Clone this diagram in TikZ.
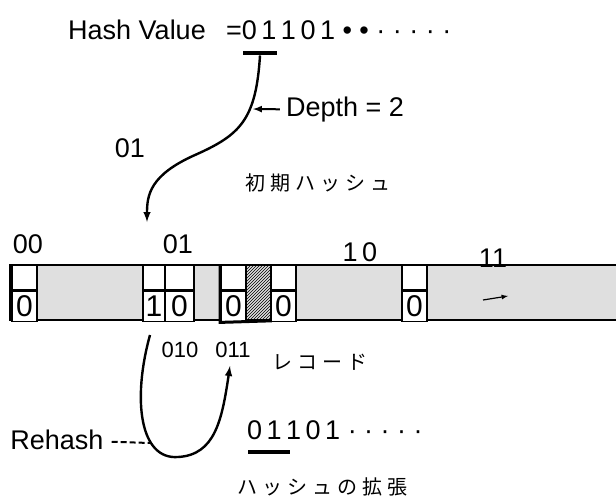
\documentclass[tikz,border=0pt]{standalone}
\usepackage{fontspec}
\setmainfont{Liberation Sans}
\newfontfamily\jp[LetterSpace=25]{Noto Sans CJK JP}
\usetikzlibrary{arrows}
\usetikzlibrary{positioning}
\usetikzlibrary{patterns}

\tikzset{
  upper/.style={draw,line width=1.6pt,fill=white,minimum width=25,minimum height=25},
  lower/.style={draw,line width=1.6pt,fill=white,minimum width=25,minimum height=30,font=\fontsize{30}{30}\selectfont},
  big/.style={font=\fontsize{27}{29}\selectfont},
  small/.style={font=\fontsize{22}{24}\selectfont},
  kana/.style={font=\fontsize{20}{22}\jp},
  ubar/.style={fill,minimum height=4.5},
  curve/.style={line width=2.4pt,-latex}
}

\begin{document}
\begin{tikzpicture}[x=1pt,y=-1pt,every node/.style={inner sep=0pt}]
  \useasboundingbox (0,0) rectangle (616,501);
  \fill[gray!25] (10,265) rectangle (616,320);
  \draw[line width=1.6pt] (616,265) -- (10,265) -- (10,320) -- (616,320);

  \node (u00) at (24.5,277.5) [upper]{};
  \node[below=0pt of u00] (b00) [lower]{0};
  \node (u010) at (154,277.5) [upper,minimum width=22]{};
  \node[below=0pt of u010] (b010) [lower,minimum width=22]{1};
  \node (u011) at (179.5,277.5) [upper,minimum width=29]{};
  \node[below=0pt of u011] (b011) [lower,minimum width=29]{0};
  \node (u3) at (233.5,277.5) [upper]{};
  \node[below=0pt of u3] (b3) [lower]{0};
  \node (hatch) at (258.5,292.5) [draw,line width=1.6pt,fill=white,pattern=north east lines,minimum width=25,minimum height=55]{};
  \node (u10) at (283.5,277.5) [upper]{};
  \node[below=0pt of u10] (b10) [lower]{0};
  \node (u11) at (414.5,277.5) [upper]{};
  \node[below=0pt of u11] (b11) [lower]{0};
  \draw[line width=3pt] (u3.north west) -- (b3.south west) -- (hatch.south east);

  \node (l00) at (28,244) [big]{00};
  \node (l01) at (178,244) [big]{01};
  \node (l10) at (360,252) [big]{1\,0};
  \node (l11) at (493,258) [big]{11};

  \node (hash) at (137,30) [big]{Hash Value};
  \node (hv) at (226,30) [big,anchor=west]{=0\,1\,1\,0\,1 • • · · · · ·};
  \node (hbar) at (260,53) [ubar,minimum width=34]{};
  \coordinate (to01) at (147,222);
  \draw[curve] (hbar.south) .. controls (256,120) and (240,135) .. (195,155)
    .. controls (150,175) and (147,195) .. (to01);

  \node (depth) at (345,110) [big]{Depth = 2};
  \coordinate (dtip) at (253,109);
  \draw[line width=2pt,-latex,shorten <=6pt] (depth) -- (dtip);
  \node (n01) at (130,148) [big]{01};
  \node (init) at (318,183) [kana]{初期ハッシュ};

  \node (l010) at (180,350) [small]{010};
  \node (l011) at (233,350) [small]{011};
  \node (rec) at (320,362) [kana]{レコード};

  \coordinate (rs) at (150,335);
  \coordinate (rb) at (178,457);
  \coordinate (r011) at (230,366);
  \draw[curve] (rs) .. controls (132,400) and (140,460) .. (rb)
    .. controls (215,455) and (222,420) .. (r011);
  \node (rehash) at (57,440) [big]{Rehash};
  \coordinate (rd) at (150,443);
  \draw[line width=2pt,dash pattern=on 6pt off 3pt,shorten <=8pt] (rehash) -- (rd);

  \node (hv2) at (247,430) [big,anchor=west]{0\,1\,1\,0\,1 · · · · ·};
  \node (hbar2) at (269,452) [ubar,minimum width=42]{};
  \node (ext) at (322,487) [kana]{ハッシュの拡張};

  \coordinate (s1) at (483,300);
  \coordinate (s2) at (508,296);
  \draw[line width=1.2pt,-latex] (s1) -- (s2);
\end{tikzpicture}
\end{document}
